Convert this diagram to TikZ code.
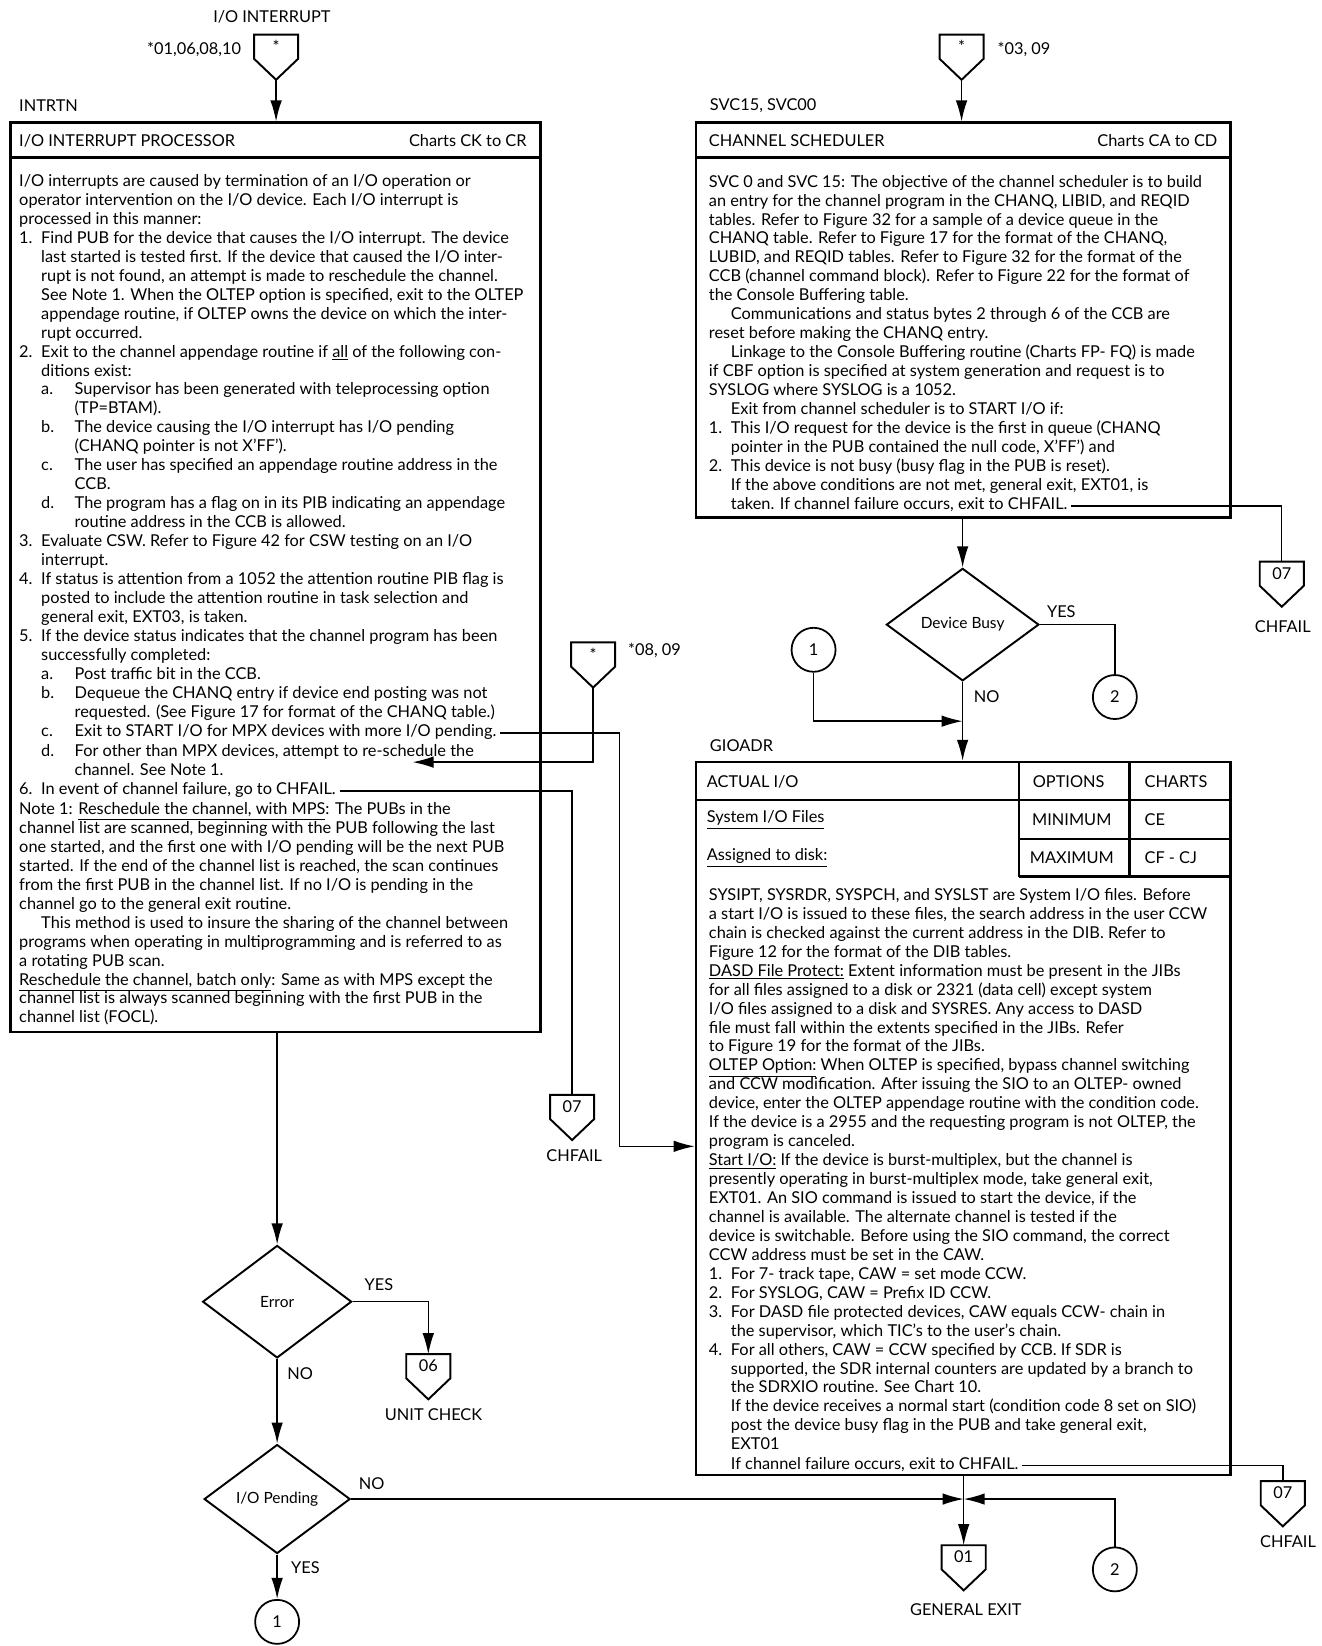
\documentclass[tikz,border=0pt]{standalone}
\usepackage{fontspec}
\setmainfont{Lato}
\usetikzlibrary{positioning,fit,shapes.geometric,arrows.meta}
\newcommand\bodyfont{\fontsize{9.3}{10.78}\selectfont}
\newcommand\numlbl[1]{\makebox[0.44cm][l]{#1}}
\newcommand\sublbl[1]{\hspace*{0.44cm}\makebox[0.67cm][l]{#1}}
\newcommand\indone{\hspace*{0.44cm}}
\newcommand\indtwo{\hspace*{1.11cm}}

\begin{document}
\begin{tikzpicture}[x=0.021cm,y=-0.021cm,
  conn/.style={line width=0.8pt},
  arr/.style={line width=0.8pt,-{Latex[length=4.2mm,width=2.3mm]}},
  box/.style={draw,line width=1.5pt,inner sep=0pt},
  sep/.style={line width=1.3pt},
  txt/.style={anchor=north west,inner sep=0pt,align=left,font=\bodyfont},
  lbl/.style={inner sep=0pt,font=\bodyfont},
  decision/.style={diamond,draw,line width=1.1pt,inner sep=0pt,font=\fontsize{8.8}{10}\selectfont},
  onpage/.style={circle,draw,line width=1pt,minimum size=0.88cm,inner sep=0pt,font=\bodyfont},
  offpage/.pic={
    \draw[line width=1.1pt] (-21,0) -- (21,0) -- (21,23) -- (0,43) -- (-21,23) -- cycle;
    \node[lbl] (-num) at (0,11) {#1};
    \coordinate (-top) at (0,0);
    \coordinate (-tip) at (0,43);
  }]
\useasboundingbox (0,0) rectangle (1259,1568);

\node[lbl] (ioint) at (259,16) {I/O INTERRUPT};
\node[lbl,anchor=east] (intrRefs) at (230,47) {*01,06,08,10};
\pic (cIntr) at (263,33) {offpage=*};
\node[lbl,anchor=west] (intrtn) at (18,101) {INTRTN};

\node[box,fit={(10,117) (515,983)}] (intBox) {};
\draw[sep] (10,150) -- (515,150);
\node[lbl,anchor=west] (intHead) at (18,134) {I/O INTERRUPT PROCESSOR};
\node[lbl,anchor=east] (intCharts) at (502,134) {Charts CK to CR};

\node[txt] (blkA) at (18,164.8) {\strut I/O interrupts are caused by termination of an I/O operation or\\
operator intervention on the I/O device. Each I/O interrupt is\\
processed in this manner:\\
\numlbl{1.}Find PUB for the device that causes the I/O interrupt. The device\\
\indone last started is tested first. If the device that caused the I/O inter-\\
\indone rupt is not found, an attempt is made to reschedule the channel.\\
\indone See Note 1. When the OLTEP option is specified, exit to the OLTEP\\
\indone appendage routine, if OLTEP owns the device on which the inter-\\
\indone rupt occurred.\\
\numlbl{2.}Exit to the channel appendage routine if \underline{all} of the following con-\\
\indone ditions exist:\\
\sublbl{a.}Supervisor has been generated with teleprocessing option\\
\indtwo (TP=BTAM).\\
\sublbl{b.}The device causing the I/O interrupt has I/O pending\\
\indtwo (CHANQ pointer is not X'FF').\\
\sublbl{c.}The user has specified an appendage routine address in the\\
\indtwo CCB.\\
\sublbl{d.}The program has a flag on in its PIB indicating an appendage\\
\indtwo routine address in the CCB is allowed.\\
\numlbl{3.}Evaluate CSW. Refer to Figure 42 for CSW testing on an I/O\\
\indone interrupt.\\
\numlbl{4.}If status is attention from a 1052 the attention routine PIB flag is\\
\indone posted to include the attention routine in task selection and\\
\indone general exit, EXT03, is taken.\\
\numlbl{5.}If the device status indicates that the channel program has been\\
\indone successfully completed:\\
\sublbl{a.}Post traffic bit in the CCB.\\
\sublbl{b.}Dequeue the CHANQ entry if device end posting was not\\
\indtwo requested. (See Figure 17 for format of the CHANQ table.)\strut};
\node[txt,below=0pt of blkA.south west,anchor=north west] (lineC) {\strut\sublbl{c.}Exit to START I/O for MPX devices with more I/O pending.\strut};
\node[txt,below=0pt of lineC.south west,anchor=north west] (blkB) {\strut\sublbl{d.}For other than MPX devices, attempt to re-schedule the\\
\indtwo channel. See Note 1.\strut};
\node[txt,below=0pt of blkB.south west,anchor=north west] (lineSix) {\strut\numlbl{6.}In event of channel failure, go to CHFAIL.\strut};
\node[txt,below=0pt of lineSix.south west,anchor=north west] (blkC) {\strut Note 1: \underline{Reschedule the channel, with MPS}: The PUBs in the\\
channel list are scanned, beginning with the PUB following the last\\
one started, and the first one with I/O pending will be the next PUB\\
started. If the end of the channel list is reached, the scan continues\\
from the first PUB in the channel list. If no I/O is pending in the\\
channel go to the general exit routine.\\
\indone This method is used to insure the sharing of the channel between\\
programs when operating in multiprogramming and is referred to as\\
a rotating PUB scan.\\
\underline{Reschedule the channel, batch only}: Same as with MPS except the\\
channel list is always scanned beginning with the first PUB in the\\
channel list (FOCL).\strut};

\pic (cSched) at (916,33) {offpage=*};
\node[lbl,anchor=west] (schedRefs) at (950,47) {*03, 09};
\node[lbl,anchor=west] (svcname) at (676,101) {SVC15, SVC00};

\node[box,fit={(663,117) (1172,493)}] (schedBox) {};
\draw[sep] (663,150) -- (1172,150);
\node[lbl,anchor=west] (schedHead) at (675,134) {CHANNEL SCHEDULER};
\node[lbl,anchor=east] (schedCharts) at (1160,134) {Charts CA to CD};

\node[txt] (blkR) at (675,165.3) {\strut SVC 0 and SVC 15: The objective of the channel scheduler is to build\\
an entry for the channel program in the CHANQ, LIBID, and REQID\\
tables. Refer to Figure 32 for a sample of a device queue in the\\
CHANQ table. Refer to Figure 17 for the format of the CHANQ,\\
LUBID, and REQID tables. Refer to Figure 32 for the format of the\\
CCB (channel command block). Refer to Figure 22 for the format of\\
the Console Buffering table.\\
\indone Communications and status bytes 2 through 6 of the CCB are\\
reset before making the CHANQ entry.\\
\indone Linkage to the Console Buffering routine (Charts FP- FQ) is made\\
if CBF option is specified at system generation and request is to\\
SYSLOG where SYSLOG is a 1052.\\
\indone Exit from channel scheduler is to START I/O if:\\
\numlbl{1.}This I/O request for the device is the first in queue (CHANQ\\
\indone pointer in the PUB contained the null code, X'FF') and\\
\numlbl{2.}This device is not busy (busy flag in the PUB is reset).\\
\indone If the above conditions are not met, general exit, EXT01, is\strut};
\node[txt,below=0pt of blkR.south west,anchor=north west] (rLast) {\strut\indone taken. If channel failure occurs, exit to CHFAIL.\strut};

\pic (cFailB) at (1221,535) {offpage=07};
\node[lbl] (failB) at (1222,597) {CHFAIL};

\node[decision,minimum width=3.05cm,minimum height=2.25cm] (busy) at (917,595) {Device Busy};
\node[lbl] (busyYes) at (1011,583) {YES};
\node[lbl] (busyNo) at (940,664) {NO};
\node[onpage] (onA) at (775,619) {1};
\node[onpage] (onB) at (1062,664) {2};
\coordinate (mergeA) at (917,687);

\pic (cResch) at (565,612) {offpage=*};
\node[lbl,anchor=west] (reschRefs) at (598,620) {*08, 09};
\coordinate (rsched) at (393,726);
\coordinate (bendA) at (590,1092);

\pic (cFailA) at (545,1043) {offpage=07};
\node[lbl] (failA) at (547,1101) {CHFAIL};

\node[lbl,anchor=west] (gioadr) at (676,710) {GIOADR};
\node[box,fit={(663,726) (1172,1405)}] (gioBox) {};
\draw[sep] (663,762) -- (1172,762);
\draw[sep] (971,726) -- (971,835);
\draw[sep] (1076,726) -- (1076,835);
\draw[sep] (971,799) -- (1172,799);
\draw[sep] (971,835) -- (1172,835);
\node[lbl,anchor=west] (actio) at (673,745) {ACTUAL I/O};
\node[lbl] (optHead) at (1018,745) {OPTIONS};
\node[lbl,anchor=west] (chHead) at (1090,745) {CHARTS};
\node[lbl,anchor=west] (sysfiles) at (673,781) {\underline{System I/O Files}};
\node[lbl] (optMin) at (1021,781) {MINIMUM};
\node[lbl,anchor=west] (chMin) at (1090,781) {CE};
\node[lbl,anchor=west] (asgdisk) at (673,817) {\underline{Assigned to disk:}};
\node[lbl] (optMax) at (1021,817) {MAXIMUM};
\node[lbl,anchor=west] (chMax) at (1090,817) {CF - CJ};

\node[txt] (blkG) at (675,844.8) {\strut SYSIPT, SYSRDR, SYSPCH, and SYSLST are System I/O files. Before\\
a start I/O is issued to these files, the search address in the user CCW\\
chain is checked against the current address in the DIB. Refer to\\
Figure 12 for the format of the DIB tables.\\
\underline{DASD File Protect:} Extent information must be present in the JIBs\\
for all files assigned to a disk or 2321 (data cell) except system\\
I/O files assigned to a disk and SYSRES. Any access to DASD\\
file must fall within the extents specified in the JIBs. Refer\\
to Figure 19 for the format of the JIBs.\\
\underline{OLTEP Option:} When OLTEP is specified, bypass channel switching\\
and CCW modification. After issuing the SIO to an OLTEP- owned\\
device, enter the OLTEP appendage routine with the condition code.\\
If the device is a 2955 and the requesting program is not OLTEP, the\\
program is canceled.\\
\underline{Start I/O:} If the device is burst-multiplex, but the channel is\\
presently operating in burst-multiplex mode, take general exit,\\
EXT01. An SIO command is issued to start the device, if the\\
channel is available. The alternate channel is tested if the\\
device is switchable. Before using the SIO command, the correct\\
CCW address must be set in the CAW.\\
\numlbl{1.}For 7- track tape, CAW = set mode CCW.\\
\numlbl{2.}For SYSLOG, CAW = Prefix ID CCW.\\
\numlbl{3.}For DASD file protected devices, CAW equals CCW- chain in\\
\indone the supervisor, which TIC's to the user's chain.\\
\numlbl{4.}For all others, CAW = CCW specified by CCB. If SDR is\\
\indone supported, the SDR internal counters are updated by a branch to\\
\indone the SDRXIO routine. See Chart 10.\\
\indone If the device receives a normal start (condition code 8 set on SIO)\\
\indone post the device busy flag in the PUB and take general exit,\\
\indone EXT01\strut};
\node[txt,below=0pt of blkG.south west,anchor=north west] (gLast) {\strut\indone If channel failure occurs, exit to CHFAIL.\strut};

\pic (cFailC) at (1222,1411) {offpage=07};
\node[lbl] (failC) at (1227,1469) {CHFAIL};
\pic (cExit) at (918,1472) {offpage=01};
\node[lbl] (genexit) at (920,1533) {GENERAL EXIT};
\node[onpage] (onC) at (1062,1495) {2};

\node[decision,minimum width=2.98cm,minimum height=2.25cm] (err) at (264,1240) {Error};
\node[lbl] (errYes) at (361,1224) {YES};
\node[lbl] (errNo) at (286,1309) {NO};
\pic (cUnit) at (408,1290) {offpage=06};
\node[lbl] (unitchk) at (413,1348) {UNIT CHECK};
\node[decision,minimum width=2.92cm,minimum height=2.18cm] (pend) at (264,1428) {I/O Pending};
\node[lbl] (pendNo) at (354,1413) {NO};
\node[lbl] (pendYes) at (291,1493) {YES};
\node[onpage] (onD) at (264,1545) {1};
\coordinate (junc) at (cExit-top |- pend.east);

\draw[arr] (cIntr-tip) -- (cIntr-tip |- intBox.north);
\draw[arr] ([xshift=2pt]lineC.east) -| (bendA) -- (bendA -| gioBox.west);
\draw[arr] (cResch-tip) |- (rsched);
\draw[conn] ([xshift=2pt]lineSix.east) -| (cFailA-top);
\draw[arr] (err.north |- intBox.south) -- (err.north);
\draw[arr] (err.east) -| (cUnit-top);
\draw[arr] (err.south) -- (pend.north);
\draw[arr] (pend.south) -- (onD.north);
\draw[arr] (pend.east) -- (junc);
\draw[arr] (cSched-tip) -- (cSched-tip |- schedBox.north);
\draw[conn] ([xshift=2pt]rLast.east) -| (cFailB-top);
\draw[arr] (busy.north |- schedBox.south) -- (busy.north);
\draw[conn] (busy.east) -| (onB.north);
\draw[arr] (busy.south) -- (busy.south |- gioBox.north);
\draw[arr] (onA.south) |- (mergeA);
\draw[conn] ([xshift=2pt]gLast.east) -| (cFailC-top);
\draw[arr] (cExit-top |- gioBox.south) -- (cExit-top);
\draw[arr] (onC.north) |- (junc);
\end{tikzpicture}
\end{document}
